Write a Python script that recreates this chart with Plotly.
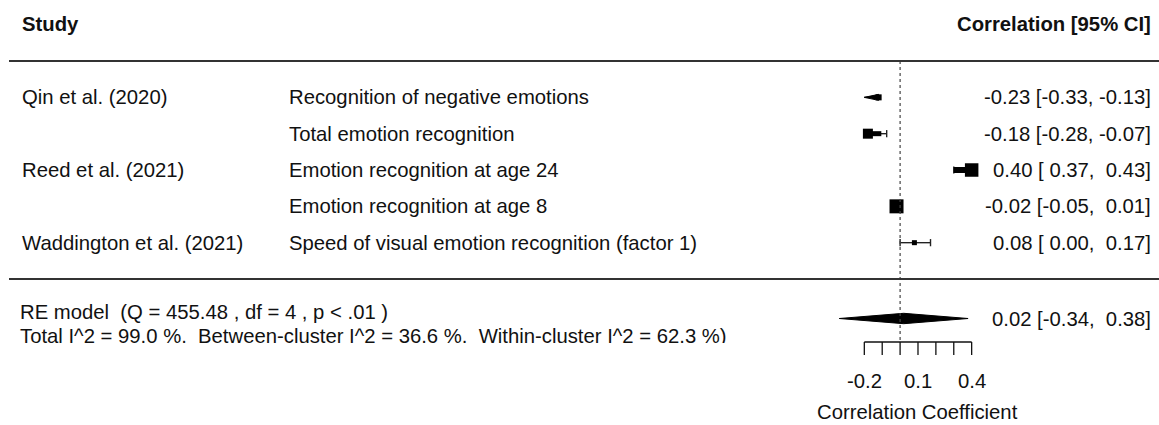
import plotly.graph_objects as go

# ---------------- data ----------------
studies = ["Qin et al. (2020)", "", "Reed et al. (2021)", "", "Waddington et al. (2021)"]
outcomes = ["Recognition of negative emotions", "Total emotion recognition",
            "Emotion recognition at age 24", "Emotion recognition at age 8",
            "Speed of visual emotion recognition (factor 1)"]
rows = [5, 4, 3, 2, 1]
est = [-0.23, -0.18, 0.40, -0.02, 0.08]
ci_lo = [-0.33, -0.28, 0.37, -0.05, 0.00]
ci_hi = [-0.13, -0.07, 0.43, 0.01, 0.17]

# positions of the drawn marks
mark_x = [-0.12, -0.18, 0.40, -0.02, 0.08]
whisk_lo = [-0.20, -0.18, 0.30, -0.02, 0.00]
whisk_hi = [-0.12, -0.075, 0.40, -0.02, 0.17]
box_px = [6, 10, 13.5, 14, 5]
cap_lo = [False, False, True, False, True]
cap_hi = [False, True, False, False, True]
bar_lo = [None, -0.18, 0.30, None, None]
bar_hi = [None, -0.105, 0.40, None, None]
bar_px = [0, 5, 6, 0, 0]
wedge = [True, False, False, False, False]

re_est, re_lo, re_hi = 0.02, -0.34, 0.38
re_label1 = "RE model  (Q = 455.48 , df = 4 , p < .01 )"
re_label2 = "Total I^2 = 99.0 %.  Between-cluster I^2 = 36.6 %.  Within-cluster I^2 = 62.3 %)"

tick_vals = [-0.2, -0.1, 0.0, 0.1, 0.2, 0.3, 0.4]
tick_labels = ["-0.2", "", "", "0.1", "", "", "0.4"]
x_title = "Correlation Coefficient"

# ---------------- layout helpers ----------------
W, H = 1159, 425
PX_PER_UNIT_X = 178.9
X0_PX = 900.1
PX_PER_ROW = 36.33
ROW0_PX = 279.0
XR = [(0 - X0_PX) / PX_PER_UNIT_X, (W - X0_PX) / PX_PER_UNIT_X]
YR = [(ROW0_PX - H) / PX_PER_ROW, ROW0_PX / PX_PER_ROW]


def ypx(p):
    return (ROW0_PX - p) / PX_PER_ROW


FONT = "Liberation Sans, Arial, Helvetica, sans-serif"
FS = 20.3
NB = "\u00a0"
y_re = ypx(318.5)
y_axis = ypx(342)
y_tick_end = ypx(355)
y_ticklab = ypx(381)
y_title = ypx(412)
cap_h = 3.6 / PX_PER_ROW


def fmt(v):
    return f"{v:5.2f}"


fig = go.Figure()

# whiskers
for r, lo, hi, m in zip(rows, whisk_lo, whisk_hi, mark_x):
    if hi > lo:
        fig.add_trace(go.Scatter(x=[lo, hi], y=[r, r], mode="lines",
                                 line=dict(color="#222", width=1.4),
                                 hoverinfo="skip", showlegend=False))
# caps
for r, lo, hi, cl, ch in zip(rows, whisk_lo, whisk_hi, cap_lo, cap_hi):
    for flag, xv in ((cl, lo), (ch, hi)):
        if flag:
            fig.add_trace(go.Scatter(x=[xv, xv], y=[r - cap_h, r + cap_h], mode="lines",
                                     line=dict(color="#222", width=1.4),
                                     hoverinfo="skip", showlegend=False))
# thick bars
for r, bl, bh, bp in zip(rows, bar_lo, bar_hi, bar_px):
    if bl is not None:
        fig.add_trace(go.Scatter(x=[bl, bh], y=[r, r], mode="lines",
                                 line=dict(color="black", width=bp),
                                 hoverinfo="skip", showlegend=False))
# wedge
for r, lo, m, s, wdg in zip(rows, whisk_lo, mark_x, box_px, wedge):
    if wdg:
        hh = (s / 2) / PX_PER_ROW
        fig.add_trace(go.Scatter(x=[lo, m, m, lo], y=[r, r + hh, r - hh, r], mode="lines",
                                 fill="toself", fillcolor="black",
                                 line=dict(color="black", width=1),
                                 hoverinfo="skip", showlegend=False))
# squares
fig.add_trace(go.Scatter(x=mark_x, y=rows, mode="markers", opacity=1,
                         marker=dict(symbol="square", size=box_px, color="black",
                                     opacity=1, line=dict(width=0)),
                         hoverinfo="skip", showlegend=False))

# summary diamond
dh = 5.2 / PX_PER_ROW
fig.add_trace(go.Scatter(x=[re_lo, re_est, re_hi, re_est, re_lo],
                         y=[y_re, y_re + dh, y_re, y_re - dh, y_re],
                         mode="lines", fill="toself", fillcolor="black",
                         line=dict(color="black", width=1),
                         hoverinfo="skip", showlegend=False))

# reference line at 0
fig.add_trace(go.Scatter(x=[0, 0], y=[6, y_axis], mode="lines",
                         line=dict(color="#444", width=1.2, dash="dot"),
                         hoverinfo="skip", showlegend=False))

# x axis (drawn)
ax_x = [tick_vals[0], tick_vals[-1]]
ax_y = [y_axis, y_axis]
for t in tick_vals:
    ax_x += [None, t, t]
    ax_y += [None, y_axis, y_tick_end]
fig.add_trace(go.Scatter(x=ax_x, y=ax_y, mode="lines",
                         line=dict(color="#111", width=1.3),
                         hoverinfo="skip", showlegend=False))

# RE model text (trace text so it can be clipped at the plot bottom like the original)
fig.add_trace(go.Scatter(x=[(20 - X0_PX) / PX_PER_UNIT_X] * 2, y=[ypx(313.5), ypx(337.5)],
                         mode="text", text=[re_label1.replace(" ", NB), re_label2.replace(" ", NB)],
                         textposition="middle right",
                         textfont=dict(family=FONT, size=FS, color="#111"),
                         hoverinfo="skip", showlegend=False))

shapes = [
    dict(type="line", xref="paper", yref="y", x0=9 / W, x1=1, y0=6, y1=6,
         line=dict(color="#333", width=2)),
    dict(type="line", xref="paper", yref="y", x0=9 / W, x1=1, y0=0, y1=0,
         line=dict(color="#333", width=2)),
    # clipping mask for the second summary line (cut off in the original)
    dict(type="rect", xref="paper", yref="y", x0=0, x1=790 / W, y0=ypx(343), y1=ypx(362),
         fillcolor="white", line=dict(width=0), layer="above"),
]

ann = []


def add_text(xp, y, text, anchor, bold=False):
    ann.append(dict(x=xp / W, y=y, xref="paper", yref="y", text=(f"<b>{text}</b>" if bold else text),
                    showarrow=False, xanchor=anchor, yanchor="middle",
                    font=dict(family=FONT, size=FS, color="#111")))


add_text(20, ypx(24), "Study", "left", bold=True)
add_text(1153, ypx(24), "Correlation [95% CI]", "right", bold=True)
for r, s, o, e, lo, hi in zip(rows, studies, outcomes, est, ci_lo, ci_hi):
    if s:
        add_text(20, r, s, "left")
    add_text(287, r, o, "left")
    add_text(1153, r, f"{e:.2f} [{fmt(lo)}, {fmt(hi)}]".replace(" ", NB), "right")
add_text(1153, y_re, f"{re_est:.2f} [{fmt(re_lo)}, {fmt(re_hi)}]".replace(" ", NB), "right")

for t, lab in zip(tick_vals, tick_labels):
    if lab:
        ann.append(dict(x=t, y=y_ticklab, xref="x", yref="y", text=lab, showarrow=False,
                        xanchor="center", yanchor="middle",
                        font=dict(family=FONT, size=FS, color="#111")))
ann.append(dict(x=0.1, y=y_title, xref="x", yref="y", text=x_title, showarrow=False,
                xanchor="center", yanchor="middle",
                font=dict(family=FONT, size=FS, color="#111")))

fig.update_layout(
    width=W, height=H, autosize=False,
    margin=dict(l=0, r=0, t=0, b=0, pad=0),
    paper_bgcolor="white", plot_bgcolor="white",
    xaxis=dict(range=XR, visible=False, fixedrange=True),
    yaxis=dict(range=YR, visible=False, fixedrange=True),
    shapes=shapes, annotations=ann, showlegend=False,
)

fig.write_html("out.html", config={"displayModeBar": False},
               post_script="document.body.style.margin='0';document.body.style.overflow='hidden';")
